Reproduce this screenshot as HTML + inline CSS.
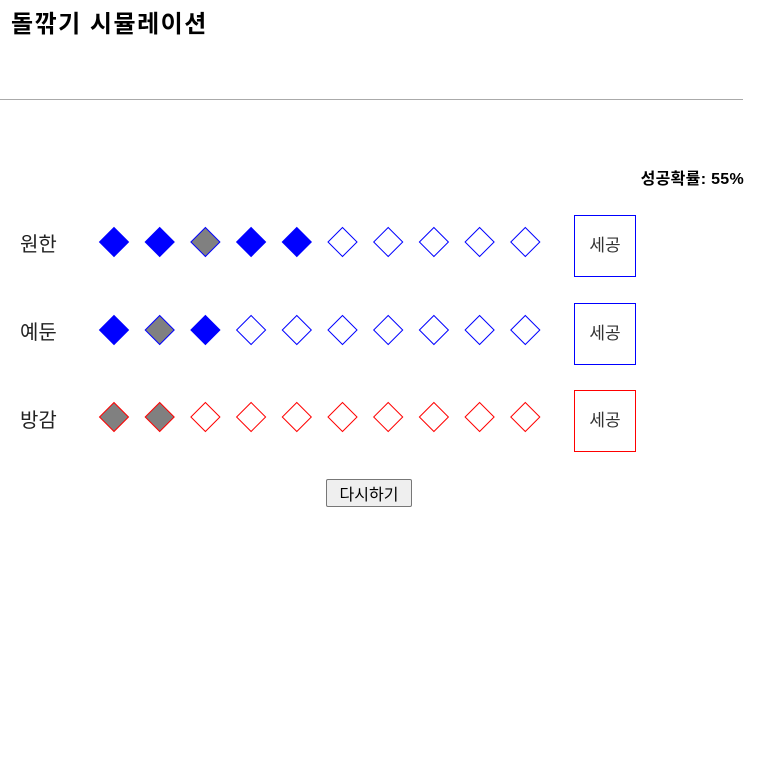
<!DOCTYPE html>
<html><head><meta charset="utf-8"><style>
body{margin:0;width:770px;height:773px;background:#fff;font-family:"Liberation Sans","Noto Sans CJK KR",sans-serif;position:relative;overflow:hidden}
h1{position:absolute;left:11px;top:4px;margin:0;font-size:24px;letter-spacing:1.5px;font-weight:bold;color:#000}
hr{position:absolute;left:0;top:99px;width:743px;margin:0;border:0;border-top:1px solid #aaa}
.prob{position:absolute;right:26px;top:165px;font-size:16px;letter-spacing:0.3px;font-weight:bold}
.lbl{position:absolute;left:20px;font-size:20px;color:#222}
.cut{position:absolute;left:574px;width:62px;height:62px;border:1px solid blue;background:#fff;font-size:17px;color:#333;text-align:center;line-height:60px;box-sizing:border-box;font-family:inherit;padding:0}
.retry{position:absolute;left:326px;top:479px;width:86px;height:28px;font-size:16px;border:1px solid #777;border-radius:2px;background:#efefef;font-family:inherit;padding:0}
svg{position:absolute;left:0;top:0}
</style></head><body>
<h1>돌깎기 시뮬레이션</h1>
<hr>
<div class="prob">성공확률: 55%</div>
<div class="lbl" style="top:228px">원한</div>
<div class="lbl" style="top:316px">예둔</div>
<div class="lbl" style="top:404px">방감</div>
<button class="cut" style="top:215px">세공</button>
<button class="cut" style="top:303px">세공</button>
<button class="cut" style="top:390px;border-color:red">세공</button>
<button class="retry">다시하기</button>
<svg id="s" width="770" height="773"></svg>
<script>
// 0 = untried, 1 = success, 2 = fail
const row1 = [1,1,2,1,1,0,0,0,0,0];
const row2 = [1,2,1,0,0,0,0,0,0,0];
const row3 = [2,2,0,0,0,0,0,0,0,0];
const rows = [row1,row2,row3];
const colors = ["blue","blue","red"];
const rowY = [242,330,417];
const xPos = i => 114 + i*45.7;
const s = document.getElementById('s');
rows.forEach((r,ri)=>{
  r.forEach((v,i)=>{
    const x = xPos(i), y = rowY[ri], h = 14.5;
    const p = document.createElementNS('http://www.w3.org/2000/svg','polygon');
    p.setAttribute('points', `${x},${y-h} ${x+h},${y} ${x},${y+h} ${x-h},${y}`);
    p.setAttribute('fill', v===1 ? colors[ri] : v===2 ? 'gray' : 'white');
    p.setAttribute('stroke', colors[ri]);
    p.setAttribute('stroke-width', '1');
    
    
    s.appendChild(p);
  });
});
</script>
</body></html>
